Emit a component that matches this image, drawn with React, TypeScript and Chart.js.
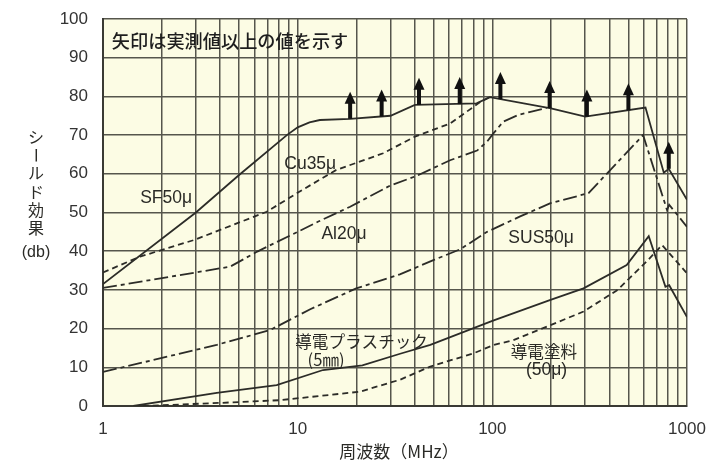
import React, { useEffect, useRef } from 'react';
import { Chart, registerables } from 'chart.js';

Chart.register(...registerables);

// Frequencies in MHz, shielding effectiveness in dB.
const sfMHz = [1, 3, 5, 8.8, 10, 11.5, 13, 18.6, 30, 40, 83, 97, 200, 300, 612, 760, 806, 1000];
const sfDb = [31.5, 50, 59.7, 70, 72, 73.3, 73.9, 74.2, 75, 77.8, 78.2, 79.8, 76.9, 74.8, 77.1, 60.3, 61.3, 53.3];

const cuMHz = [1, 1.55, 2.94, 6.94, 10.3, 15.8, 27.5, 40, 60.7, 87, 97];
const cuDb = [34.5, 38.6, 42.9, 50.2, 55.5, 61, 65.3, 69.6, 73, 78.6, 79.8];

const alMHz = [1, 4.5, 6.2, 10.3, 12.7, 18.6, 30, 41, 60.7, 83.5, 94, 101.5, 114, 136, 157, 190];
const alDb = [30.5, 36, 39.9, 45.3, 47.6, 51.5, 57, 59.5, 63.5, 66, 68.3, 70.5, 73.5, 75.2, 76, 77];

const susMHz = [1, 3.84, 7.2, 11.6, 20, 33.5, 49.8, 68.4, 94, 139, 199, 312, 595, 790, 810, 1000];
const susDb = [8.8, 15.8, 19.6, 25, 30.4, 34, 37.7, 40.5, 45, 49, 52.4, 55, 70, 50.6, 52, 46.3];

const plasticMHz = [1.43, 3.84, 7.8, 13.5, 21.5, 33.6, 48, 100, 199, 294, 490, 636, 775, 810, 1000];
const plasticDb = [0, 3.4, 5.4, 9.3, 10.5, 13.5, 15.8, 22, 27.4, 30.4, 36.4, 43.9, 30.8, 31.2, 23];

const paintMHz = [1.6, 4, 8.1, 20.9, 33.6, 48, 80, 102, 128, 199, 294, 440, 625, 745, 1000];
const paintDb = [0, 0.8, 1.5, 3.7, 6.8, 10.2, 13.6, 15.8, 17, 20.9, 24.4, 30, 37.5, 41.6, 34.3];

// Points where the measured value is a lower bound (arrow starts on the curve).
const arrowMHz = [18.6, 27, 42, 68, 110, 197, 306, 500, 806];
const arrowDb = [74.2, 74.8, 77.8, 78, 79.3, 77, 74.8, 76.4, 61.3];

// Axis grid / tick labels
const xGridMHz = [
  1, 2, 3, 4, 5, 6, 7, 8, 9,
  10, 20, 30, 40, 50, 60, 70, 80, 90,
  100, 200, 300, 400, 500, 600, 700, 800, 900,
  1000,
];
const xTickLabels = [1, 10, 100, 1000];

const yTitleChars = ['シ', 'ー', 'ル', 'ド', '効', '果'];
const yTitleUnit = '(db)';
const xTitle = '周波数（MHz）';
const noteText = '矢印は実測値以上の値を示す';

// Curve labels placed in data coordinates
const curveLabels = [
  { text: 'SF50μ', mhz: 2.11, db: 53.7 },
  { text: 'Cu35μ', mhz: 11.6, db: 62.5 },
  { text: 'Al20μ', mhz: 17.3, db: 44.5 },
  { text: 'SUS50μ', mhz: 178, db: 43.3 },
  { text: '導電プラスチック', mhz: 21.3, db: 16.6 },
  { text: '(5㎜)', mhz: 14.0, db: 11.9 },
  { text: '導電塗料', mhz: 184, db: 14.0 },
  { text: '(50μ)', mhz: 190, db: 9.3 },
];

const LATIN = '"Liberation Sans", Arial, "Noto Sans CJK JP", sans-serif';
const CJK = '"Noto Sans CJK JP", "Liberation Sans", sans-serif';
const INK = '#2a2a26';
const GRID = '#56564c';

const pts = (xs: number[], ys: number[]) => xs.map((x, i) => ({ x, y: ys[i] }));

const paperPlugin = {
  id: 'paper',
  beforeDraw(chart: any) {
    const { ctx, chartArea, width, height } = chart;
    ctx.save();
    ctx.fillStyle = '#ffffff';
    ctx.fillRect(0, 0, width, height);
    ctx.fillStyle = '#fcfce4';
    ctx.fillRect(chartArea.left, chartArea.top, chartArea.right - chartArea.left, chartArea.bottom - chartArea.top);
    ctx.restore();
  },
};

const ARROW_LEN_DB = 7;

const notesPlugin = {
  id: 'notes',
  afterDatasetsDraw(chart: any) {
    const { ctx } = chart;
    const xs = chart.scales.x;
    const ys = chart.scales.y;
    ctx.save();

    // Arrows
    ctx.fillStyle = '#111';
    arrowMHz.forEach((f, i) => {
      const px = xs.getPixelForValue(f);
      const yb = ys.getPixelForValue(arrowDb[i]);
      const yt = ys.getPixelForValue(arrowDb[i] + ARROW_LEN_DB);
      const headH = 12;
      const headW = 11;
      ctx.fillRect(px - 2, yt + headH - 1, 4, yb - (yt + headH - 1));
      ctx.beginPath();
      ctx.moveTo(px, yt);
      ctx.lineTo(px + headW / 2, yt + headH);
      ctx.lineTo(px - headW / 2, yt + headH);
      ctx.closePath();
      ctx.fill();
    });

    // Curve labels
    ctx.fillStyle = INK;
    ctx.textAlign = 'center';
    ctx.textBaseline = 'middle';
    curveLabels.forEach((l) => {
      const cjk = /[^\x00-\x7F\u00B5\u03BC]/.test(l.text);
      ctx.font = cjk ? `16.6px ${CJK}` : `17.5px ${LATIN}`;
      ctx.fillText(l.text, xs.getPixelForValue(l.mhz), ys.getPixelForValue(l.db));
    });

    // Note in the upper-left corner
    ctx.textAlign = 'left';
    ctx.font = `500 18.2px ${CJK}`;
    ctx.fillStyle = '#1e1e1e';
    ctx.fillText(noteText, xs.getPixelForValue(1.11), ys.getPixelForValue(94.4));

    // Vertical y-axis title
    ctx.fillStyle = INK;
    ctx.textAlign = 'center';
    ctx.font = `16px ${CJK}`;
    yTitleChars.forEach((ch, i) => {
      const cy = 137 + i * 18.2;
      if (ch === 'ー') {
        ctx.save();
        ctx.translate(36, cy);
        ctx.rotate(Math.PI / 2);
        ctx.fillText(ch, 0, 0);
        ctx.restore();
      } else {
        ctx.fillText(ch, 36, cy);
      }
    });
    ctx.font = `16px ${LATIN}`;
    ctx.fillText(yTitleUnit, 36, 253);

    // x-axis title
    ctx.font = `17px ${CJK}`;
    ctx.fillText(xTitle, 399, 452);

    ctx.restore();
  },
};

export default function App() {
  const ref = useRef<HTMLCanvasElement | null>(null);

  useEffect(() => {
    document.body.style.margin = '0';
    const canvas = ref.current;
    if (!canvas) return;

    const line = (data: any, dash: number[]) => ({
      data,
      borderColor: '#2c2c28',
      borderWidth: 1.8,
      borderDash: dash,
      pointRadius: 0,
      tension: 0,
      fill: false,
    });

    const chart = new Chart(canvas, {
      type: 'line',
      data: {
        datasets: [
          { label: 'SF50μ', ...line(pts(sfMHz, sfDb), []) },
          { label: 'Cu35μ', ...line(pts(cuMHz, cuDb), [6, 4]) },
          { label: 'Al20μ', ...line(pts(alMHz, alDb), [14, 4, 4, 4]) },
          { label: 'SUS50μ', ...line(pts(susMHz, susDb), [14, 4, 4, 4]) },
          { label: '導電プラスチック(5㎜)', ...line(pts(plasticMHz, plasticDb), []) },
          { label: '導電塗料(50μ)', ...line(pts(paintMHz, paintDb), [6, 4]) },
        ],
      },
      options: {
        responsive: false,
        animation: false,
        events: [],
        layout: { padding: { top: 19, right: 19, left: 0, bottom: 0 } },
        plugins: {
          legend: { display: false },
          tooltip: { enabled: false },
          title: { display: false },
        },
        scales: {
          x: {
            type: 'logarithmic',
            min: 1,
            max: 1000,
            afterBuildTicks: (scale: any) => {
              scale.ticks = xGridMHz.map((v) => ({ value: v, major: xTickLabels.includes(v) }));
            },
            afterFit: (scale: any) => {
              scale.height = 57;
              scale.paddingLeft = 0;
              scale.paddingRight = 0;
            },
            grid: { color: GRID, lineWidth: 1.5, drawTicks: false },
            border: { display: true, color: '#3a3a34', width: 2 },
            ticks: {
              autoSkip: false,
              maxRotation: 0,
              minRotation: 0,
              padding: 13,
              color: '#333',
              font: { family: LATIN, size: 17 },
              callback: (value: any) => (xTickLabels.includes(Number(value)) ? String(value) : ''),
            },
          },
          y: {
            type: 'linear',
            min: 0,
            max: 100,
            afterFit: (scale: any) => {
              scale.width = 103;
              scale.paddingTop = 0;
              scale.paddingBottom = 0;
            },
            grid: { color: GRID, lineWidth: 1.5, drawTicks: false },
            border: { display: true, color: '#3a3a34', width: 2 },
            ticks: {
              stepSize: 10,
              padding: 15,
              color: '#333',
              font: { family: LATIN, size: 17 },
            },
          },
        },
      },
      plugins: [paperPlugin, notesPlugin],
    } as any);

    return () => chart.destroy();
  }, []);

  return (
    <div style={{ width: 706, height: 463 }}>
      <canvas ref={ref} width={706} height={463} />
    </div>
  );
}
